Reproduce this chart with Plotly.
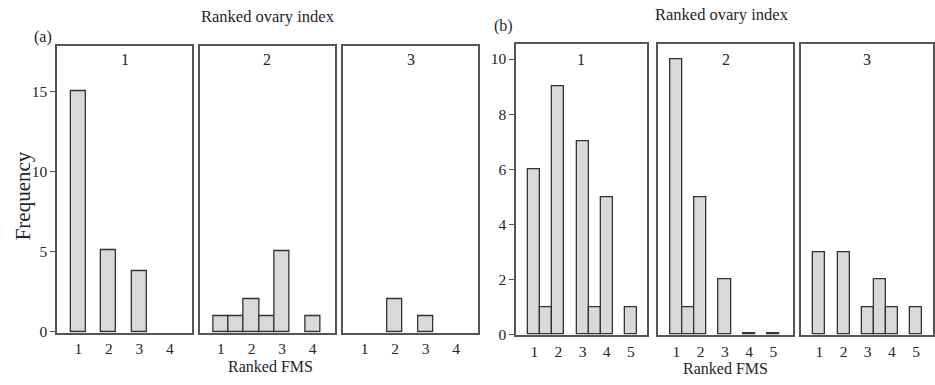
import plotly.graph_objects as go

# Panel (a): ranked FMS frequencies for each ranked ovary index (1, 2, 3)
a_fms_1 = [1, 2, 3]
a_freq_1 = [15, 5.1, 3.75]
a_fms_2 = [1, 1.5, 2, 2.5, 3, 4]
a_freq_2 = [1, 1, 2, 1, 5, 1]
a_fms_3 = [2, 3]
a_freq_3 = [2, 1]

# Panel (b)
b_fms_1 = [1, 1.5, 2, 3, 3.5, 4, 5]
b_freq_1 = [6, 1, 9, 7, 1, 5, 1]
b_fms_2 = [1, 1.5, 2, 3, 4, 5]
b_freq_2 = [10, 1, 5, 2, 0.06, 0.06]
b_fms_3 = [1, 2, 3, 3.5, 4, 5]
b_freq_3 = [3, 3, 1, 2, 1, 1]

a_ticks = [1, 2, 3, 4]
b_ticks = [1, 2, 3, 4, 5]
facet_labels = ["1", "2", "3"]

W, H = 935, 385
FONT = "Liberation Serif"
TXT = "#24242c"
BAR_FILL = "#d9d9d9"
BAR_LINE = "#333333"
BOX = "#555555"

fig = go.Figure()

panels = [
    # (fms, freq, x pixel span, y pixel span, ticks, xrange, yrange, yticks)
    (a_fms_1, a_freq_1, (57, 192), (47, 339), a_ticks, [0.3, 4.73], [-0.07, 17.8], [0, 5, 10, 15]),
    (a_fms_2, a_freq_2, (199.5, 335), (47, 339), a_ticks, [0.3, 4.73], [-0.07, 17.8], None),
    (a_fms_3, a_freq_3, (343.3, 478.3), (47, 339), a_ticks, [0.3, 4.73], [-0.07, 17.8], None),
    (b_fms_1, b_freq_1, (516, 646.7), (45, 341.7), b_ticks, [0.24, 5.66], [-0.04, 10.54], [0, 2, 4, 6, 8, 10]),
    (b_fms_2, b_freq_2, (658.3, 792.7), (45, 341.7), b_ticks, [0.26, 5.8], [-0.04, 10.54], None),
    (b_fms_3, b_freq_3, (801, 933), (45, 341.7), b_ticks, [0.24, 5.7], [-0.04, 10.54], None),
]

for i, (xs, ys, (x0, x1), (y0, y1), ticks, xr, yr, yt) in enumerate(panels, start=1):
    sfx = "" if i == 1 else str(i)
    fig.add_trace(go.Bar(
        x=xs, y=ys, width=0.5,
        marker=dict(color=BAR_FILL, line=dict(color=BAR_LINE, width=1.3)),
        xaxis="x" + sfx, yaxis="y" + sfx, showlegend=False,
    ))
    xdom = [x0 / W, x1 / W]
    ydom = [1 - y1 / H, 1 - y0 / H]
    fig.layout["xaxis" + sfx] = dict(
        domain=xdom, range=xr, anchor="y" + sfx,
        tickvals=ticks, ticktext=[str(t) for t in ticks],
        ticks="", showgrid=False, zeroline=False,
        showline=True, linecolor=BOX, linewidth=1.5, mirror=True,
        ticklabelstandoff=1,
        tickfont=dict(family=FONT, size=15.5, color=TXT),
    )
    ydict = dict(
        domain=ydom, range=yr, anchor="x" + sfx,
        showgrid=False, zeroline=False,
        showline=True, linecolor=BOX, linewidth=1.5, mirror=True,
        tickfont=dict(family=FONT, size=15.5, color=TXT),
    )
    if yt is not None:
        ydict.update(tickvals=yt, ticks="outside", ticklen=5, tickcolor=BOX, tickwidth=1.2)
    else:
        ydict.update(showticklabels=False, ticks="")
    fig.layout["yaxis" + sfx] = ydict

    # facet label at the top of each panel
    fig.add_annotation(
        x=(x0 + x1) / 2 / W, y=1 - 61 / H, xref="paper", yref="paper",
        text=facet_labels[(i - 1) % 3], showarrow=False,
        xanchor="center", yanchor="middle",
        font=dict(family=FONT, size=16, color=TXT),
    )

texts = [
    ("Ranked ovary index", 268, 17, 16.5, 0),
    ("Ranked ovary index", 722, 15, 16.5, 0),
    ("Ranked FMS", 270, 373, 16, 0),
    ("Ranked FMS", 725, 375, 16, 0),
    ("(a)", 43, 38, 16, 0),
    ("(b)", 503, 26, 16, 0),
    ("Frequency", 23, 200, 21, -90),
]
for t, px, py, fs, ang in texts:
    fig.add_annotation(
        x=px / W, y=1 - py / H, xref="paper", yref="paper",
        text=t, showarrow=False, textangle=ang,
        xanchor="center", yanchor="middle",
        font=dict(family=FONT, size=fs, color=TXT),
    )

fig.update_layout(
    width=W, height=H, margin=dict(l=0, r=0, t=0, b=0),
    paper_bgcolor="white", plot_bgcolor="white",
    bargap=0,
)

fig.write_html("out.html")
